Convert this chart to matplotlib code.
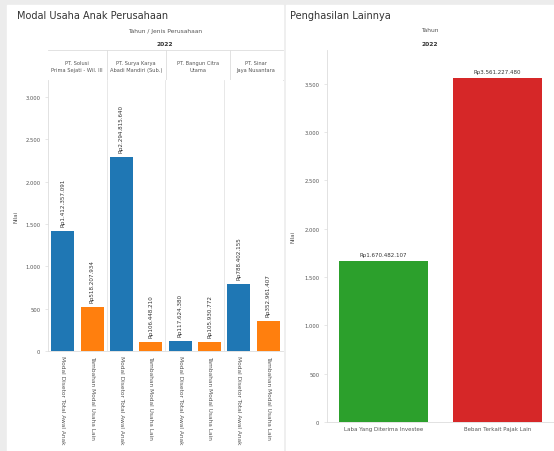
import matplotlib
matplotlib.use("Agg")
import matplotlib.pyplot as plt
from matplotlib.patches import Rectangle
from matplotlib.ticker import FuncFormatter

# ---- data (Rupiah) ----
perusahaan = ["PT. Solusi\nPrima Sejati - Wil. III", "PT. Surya Karya\nAbadi Mandiri (Sub.)",
              "PT. Bangun Citra\nUtama", "PT. Sinar\nJaya Nusantara"]
jenis_modal = ["Modal Disetor Total Awal Anak", "Tambahan Modal Usaha Lain"]
modal_disetor = [1_412_357_091, 2_294_815_640, 117_624_380, 788_402_155]
tambahan_modal = [518_207_934, 106_448_210, 105_930_772, 352_961_407]

pos_lainnya = ["Laba Yang Diterima Investee", "Beban Terkait Pajak Lain"]
nilai_lainnya = [1_670_482_107, 3_561_227_480]

tahun = "2022"
left_ticks = [0, 500, 1000, 1500, 2000, 2500, 3000]
right_ticks = [0, 500, 1000, 1500, 2000, 2500, 3000, 3500]

BLUE, ORANGE, GREEN, RED = "#1f77b4", "#ff7f0e", "#2ca02c", "#d62728"
TXT = "#555555"
plt.rcParams["font.family"] = ["DejaVu Sans"]

W, H = 554, 452
fig = plt.figure(figsize=(W / 100, H / 100), dpi=100, facecolor="#ececec")


def px(x0, y0, x1, y1):
    return [x0 / W, 1 - y1 / H, (x1 - x0) / W, (y1 - y0) / H]


def rupiah(v):
    return "Rp" + f"{v:,}".replace(",", ".")


juta = FuncFormatter(lambda v, p: f"{v:,.0f}".replace(",", "."))

# white panels
bg = fig.add_axes([0, 0, 1, 1], zorder=-5)
bg.set_xlim(0, W); bg.set_ylim(H, 0); bg.axis("off")
bg.add_patch(Rectangle((7, 6), 276, H, color="white"))
bg.add_patch(Rectangle((286, 6), W - 286, H, color="white"))
bg.text(17, 16, "Modal Usaha Anak Perusahaan", fontsize=7.0, color="#333333", va="center")
bg.text(290, 16, "Penghasilan Lainnya", fontsize=7.0, color="#333333", va="center")

# ---- left panel header ----
bg.text(165, 31, "Tahun / Jenis Perusahaan", fontsize=4.3, color=TXT, ha="center", va="center")
bg.text(165, 44, tahun, fontsize=4.3, color="#333333", ha="center", va="center", fontweight="bold")
bg.plot([48, 283], [51, 51], color="#dddddd", lw=0.6)
bg.plot([48, 283], [81, 81], color="#dddddd", lw=0.6)
for cx, name in zip([77, 136, 198, 256], perusahaan):
    bg.text(cx, 67, name, fontsize=3.7, color=TXT, ha="center", va="center", linespacing=1.3)
for xs in [107, 166, 230]:
    bg.plot([xs, xs], [51, 81], color="#dddddd", lw=0.6)

# ---- left chart ----
axL = fig.add_axes(px(48, 81, 283, 352))
n = len(perusahaan)
xb = [2 * i for i in range(n)]
xo = [2 * i + 1 for i in range(n)]
axL.bar(xb, [v / 1e6 for v in modal_disetor], width=0.78, color=BLUE)
axL.bar(xo, [v / 1e6 for v in tambahan_modal], width=0.78, color=ORANGE)
for x, v in list(zip(xb, modal_disetor)) + list(zip(xo, tambahan_modal)):
    axL.text(x, v / 1e6 + 60, rupiah(v), rotation=90, fontsize=4.1, color="#333333",
             ha="center", va="bottom")
axL.set_xlim(-0.5, 2 * n - 0.5)
axL.set_ylim(0, 3200)
axL.set_yticks(left_ticks)
axL.yaxis.set_major_formatter(juta)
axL.set_xticks(xb + xo)
axL.set_xticklabels([jenis_modal[0]] * n + [jenis_modal[1]] * n, rotation=-90,
                    fontsize=4.2, color=TXT)
for s in ["top", "right"]:
    axL.spines[s].set_visible(False)
for s in ["left", "bottom"]:
    axL.spines[s].set_color("#dddddd"); axL.spines[s].set_linewidth(0.6)
for xs in [1.5, 3.5, 5.5]:
    axL.axvline(xs, color="#e4e4e4", lw=0.6)
axL.tick_params(axis="y", labelsize=3.8, labelcolor=TXT, length=2, color="#dddddd", width=0.5)
axL.tick_params(axis="x", length=0, pad=3)
axL.set_ylabel("Nilai", fontsize=4, color=TXT, labelpad=5)

# ---- right panel header ----
bg.text(430, 31, "Tahun", fontsize=4.3, color=TXT, ha="center", va="center")
bg.text(430, 44, tahun, fontsize=4.3, color="#333333", ha="center", va="center", fontweight="bold")
bg.plot([327, 554], [51, 51], color="#dddddd", lw=0.6)

# ---- right chart ----
axR = fig.add_axes(px(327, 51, 554, 423))
axR.bar(range(len(pos_lainnya)), [v / 1e6 for v in nilai_lainnya], width=0.78,
        color=[GREEN, RED])
for x, v in enumerate(nilai_lainnya):
    axR.text(x, v / 1e6 + 40, rupiah(v), fontsize=4.0, color="#333333",
             ha="center", va="bottom")
axR.set_xlim(-0.5, 1.5)
axR.set_ylim(0, 3850)
axR.set_yticks(right_ticks)
axR.yaxis.set_major_formatter(juta)
axR.set_xticks(range(len(pos_lainnya)))
axR.set_xticklabels(pos_lainnya, fontsize=4.0, color=TXT)
for s in ["top", "right"]:
    axR.spines[s].set_visible(False)
for s in ["left", "bottom"]:
    axR.spines[s].set_color("#dddddd"); axR.spines[s].set_linewidth(0.6)
axR.tick_params(axis="y", labelsize=3.8, labelcolor=TXT, length=2, color="#dddddd", width=0.5)
axR.tick_params(axis="x", length=0, pad=3)
axR.set_ylabel("Nilai", fontsize=4, color=TXT, labelpad=6)

fig.savefig("out.png", dpi=100, facecolor=fig.get_facecolor())
